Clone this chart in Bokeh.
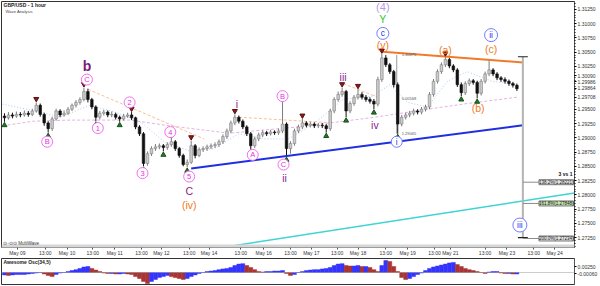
import numpy as np
from bokeh.plotting import figure
from bokeh.layouts import column
from bokeh.models import (Range1d, FixedTicker, ColumnDataSource, Label, BoxAnnotation,
                          Span, NumeralTickFormatter)
from bokeh.core.properties import value
from bokeh.embed import file_html
from bokeh.resources import INLINE

FONT = "Liberation Sans"

# ---------------- data (2-hour candles, GBP/USD) ----------------
first_open = 1.2938
close = [1.2935, 1.2940, 1.2938, 1.2941, 1.2940, 1.2943, 1.2941, 1.2947, 1.2957, 1.2941,
         1.2926, 1.2916, 1.2933, 1.2947, 1.2940, 1.2943, 1.2950, 1.2957, 1.2962, 1.2967,
         1.2981, 1.2967, 1.2954, 1.2936, 1.2943, 1.2945, 1.2940, 1.2941, 1.2936, 1.2933,
         1.2938, 1.2940, 1.2935, 1.2919, 1.2907, 1.2855, 1.2872, 1.2881, 1.2884, 1.2886,
         1.2883, 1.2888, 1.2893, 1.2881, 1.2869, 1.2853, 1.2857, 1.2886, 1.2869, 1.2879,
         1.2881, 1.2884, 1.2886, 1.2888, 1.2893, 1.2902, 1.2912, 1.2926, 1.2936, 1.2929,
         1.2919, 1.2907, 1.2886, 1.2898, 1.2905, 1.2909, 1.2907, 1.2910, 1.2909, 1.2912,
         1.2924, 1.2881, 1.2890, 1.2912, 1.2919, 1.2926, 1.2922, 1.2924, 1.2921, 1.2922,
         1.2921, 1.2916, 1.2947, 1.2967, 1.2976, 1.2981, 1.2947, 1.2960, 1.2971, 1.2976,
         1.2971, 1.2967, 1.2964, 1.2959, 1.3002, 1.3040, 1.3028, 1.3016, 1.2993, 1.2924,
         1.2936, 1.2940, 1.2943, 1.2947, 1.2945, 1.2950, 1.2954, 1.2976, 1.2999, 1.3016,
         1.3028, 1.3037, 1.3026, 1.3019, 1.2993, 1.2979, 1.2995, 1.3000, 1.2997, 1.2978,
         1.2999, 1.3012, 1.3019, 1.3012, 1.3005, 1.3002, 1.2999, 1.2995, 1.2992, 1.2986]
high = [1.2943, 1.2945, 1.2944, 1.2946, 1.2945, 1.2948, 1.2947, 1.2951, 1.2962, 1.2960,
        1.2944, 1.2929, 1.2937, 1.2951, 1.2950, 1.2948, 1.2954, 1.2960, 1.2966, 1.2971,
        1.2988, 1.2986, 1.2970, 1.2957, 1.2947, 1.2949, 1.2948, 1.2946, 1.2944, 1.2939,
        1.2942, 1.2944, 1.2945, 1.2937, 1.2922, 1.2910, 1.2876, 1.2885, 1.2889, 1.2890,
        1.2889, 1.2892, 1.2898, 1.2896, 1.2884, 1.2872, 1.2862, 1.2895, 1.2889, 1.2883,
        1.2885, 1.2888, 1.2890, 1.2892, 1.2897, 1.2906, 1.2916, 1.2930, 1.2941, 1.2939,
        1.2932, 1.2922, 1.2910, 1.2902, 1.2909, 1.2913, 1.2912, 1.2914, 1.2913, 1.2916,
        1.2964, 1.2927, 1.2894, 1.2916, 1.2923, 1.2933, 1.2929, 1.2928, 1.2927, 1.2926,
        1.2926, 1.2924, 1.2951, 1.2971, 1.2981, 1.2988, 1.2984, 1.2964, 1.2975, 1.2985,
        1.2980, 1.2975, 1.2971, 1.2968, 1.3007, 1.3047, 1.3045, 1.3031, 1.3019, 1.2997,
        1.2940, 1.2944, 1.2947, 1.2951, 1.2950, 1.2954, 1.2958, 1.2980, 1.3003, 1.3020,
        1.3032, 1.3042, 1.3040, 1.3029, 1.3022, 1.2997, 1.2999, 1.3004, 1.3003, 1.3000,
        1.3003, 1.3016, 1.3037, 1.3022, 1.3015, 1.3008, 1.3006, 1.3002, 1.2998, 1.2995]
low = [1.2928, 1.2932, 1.2934, 1.2935, 1.2936, 1.2937, 1.2937, 1.2938, 1.2944, 1.2937,
       1.2921, 1.2909, 1.2912, 1.2930, 1.2936, 1.2937, 1.2940, 1.2947, 1.2953, 1.2958,
       1.2964, 1.2962, 1.2950, 1.2929, 1.2932, 1.2939, 1.2936, 1.2936, 1.2932, 1.2928,
       1.2930, 1.2935, 1.2931, 1.2915, 1.2903, 1.2850, 1.2851, 1.2868, 1.2877, 1.2880,
       1.2876, 1.2879, 1.2884, 1.2877, 1.2865, 1.2850, 1.2848, 1.2854, 1.2864, 1.2866,
       1.2875, 1.2877, 1.2880, 1.2882, 1.2884, 1.2889, 1.2898, 1.2908, 1.2922, 1.2925,
       1.2915, 1.2903, 1.2879, 1.2882, 1.2894, 1.2901, 1.2903, 1.2904, 1.2905, 1.2905,
       1.2908, 1.2867, 1.2872, 1.2886, 1.2908, 1.2915, 1.2918, 1.2918, 1.2917, 1.2917,
       1.2917, 1.2909, 1.2912, 1.2943, 1.2963, 1.2972, 1.2936, 1.2943, 1.2956, 1.2967,
       1.2967, 1.2963, 1.2960, 1.2950, 1.2955, 1.2998, 1.3024, 1.3012, 1.2988, 1.2907,
       1.2920, 1.2932, 1.2936, 1.2939, 1.2941, 1.2941, 1.2946, 1.2950, 1.2972, 1.2995,
       1.3012, 1.3024, 1.3022, 1.3015, 1.2989, 1.2973, 1.2975, 1.2991, 1.2993, 1.2969,
       1.2974, 1.2995, 1.3008, 1.3008, 1.3001, 1.2998, 1.2995, 1.2991, 1.2988, 1.2982]
osc = [-0.0010, -0.0012, -0.0010, -0.0008, -0.0008, -0.0008, -0.0006, -0.0004, -0.0002, 0.0000,
       -0.0006, -0.0012, -0.0017, -0.0008, -0.0002, 0.0000, 0.0004, 0.0008, 0.0012, 0.0017,
       0.0023, 0.0025, 0.0017, 0.0010, 0.0004, -0.0002, -0.0004, -0.0004, -0.0006, -0.0006,
       -0.0004, -0.0006, -0.0008, -0.0017, -0.0025, -0.0037, -0.0046, -0.0037, -0.0029, -0.0021,
       -0.0017, -0.0012, -0.0017, -0.0021, -0.0025, -0.0029, -0.0025, -0.0017, -0.0010, -0.0004,
       0.0000, 0.0004, 0.0006, 0.0008, 0.0012, 0.0015, 0.0017, 0.0021, 0.0029, 0.0035,
       0.0037, 0.0029, 0.0021, 0.0012, 0.0004, 0.0002, 0.0004, 0.0004, 0.0006, 0.0006,
       0.0008, -0.0004, -0.0012, -0.0008, 0.0000, 0.0004, 0.0008, 0.0010, 0.0012, 0.0012,
       0.0015, 0.0017, 0.0021, 0.0029, 0.0035, 0.0037, 0.0029, 0.0027, 0.0027, 0.0029,
       0.0025, 0.0025, 0.0021, 0.0012, 0.0004, 0.0029, 0.0050, 0.0046, 0.0025, 0.0004,
       -0.0021, -0.0029, -0.0025, -0.0017, -0.0008, -0.0002, 0.0008, 0.0017, 0.0023, 0.0027,
       0.0031, 0.0035, 0.0040, 0.0042, 0.0033, 0.0025, 0.0017, 0.0012, 0.0008, 0.0004,
       0.0000, -0.0004, 0.0002, 0.0004, 0.0004, -0.0002, -0.0004, -0.0004, -0.0006, -0.0006]

# time axis (hour index) tick labels
time_ticks = [7.5, 21.5, 32.5, 45.5, 56.5, 70, 80, 94, 104, 120, 131.5, 145, 155.5,
              168.5, 179, 193, 204, 217.5, 225.5, 243, 254, 267.5, 278]
time_labels = ["May 09", "13:00", "May 10", "13:00", "May 11", "13:00", "May 12", "13:00",
               "May 14", "13:00", "May 16", "13:00", "May 17", "13:00", "May 18", "13:00",
               "May 19", "13:00", "May 21", "13:00", "May 23", "13:00", "May 24"]
# price scale ticks (1.30000 and 1.29750 are covered by the last-value tags)
price_ticks = [1.2725, 1.2750, 1.2775, 1.2800, 1.2825, 1.2850, 1.2875, 1.2900, 1.2925,
               1.2950, 1.3025, 1.3050, 1.3075, 1.3100, 1.3125]
last_values = [1.30090, 1.29986, 1.29864, 1.29708]
osc_ticks = [0.0025, -0.0006]

# moving averages
pink_ma_t = [0, 15.5, 34, 64, 84, 114, 149, 187.5, 214, 234, 259]
pink_ma_v = [1.2921, 1.2929, 1.2931, 1.2931, 1.2921, 1.2908, 1.2919, 1.2936, 1.2950, 1.2960, 1.2971]
blue_ma_t = [0, 16.5, 29, 44, 56.5, 69, 81.5, 94, 106.5, 119, 131.5, 144, 156.5, 171.5,
             186.5, 195, 204, 214, 224, 234, 246.5, 259]
blue_ma_v = [1.2959, 1.2947, 1.2936, 1.2957, 1.2945, 1.2929, 1.2893, 1.2877, 1.2881, 1.2907,
             1.2898, 1.2898, 1.2924, 1.2967, 1.2973, 1.2993, 1.2962, 1.2954, 1.2999, 1.3016,
             1.2999, 1.2993]
peach_t0 = [43, 119, 171.5]
peach_v0 = [1.2985, 1.2936, 1.2995]
peach_t1 = [101.5, 166.5, 189]
peach_v1 = [1.2898, 1.2926, 1.2971]

# trend lines
blue_trend_t = [95, 262]
blue_trend_v = [1.2846, 1.2922]
orange_trend_t = [191.5, 262]
orange_trend_v = [1.3051, 1.3032]
cyan_trend_t = [113, 288]
cyan_trend_v = [1.2709, 1.2803]

# projection / fibonacci
proj_t = 262
proj_top = 1.3042
proj_bottom = 1.2725
fib_levels = [1.28221, 1.27848, 1.27234]
fib_texts = ["138.2%(1.28221)", "161.8%(1.27848)", "200.0%(1.27234)"]
fib_fills = ["#e4e4e4", "#c6e6b0", "#e4e4e4"]

# swing markers (candle indices)
hi_marks = [8, 20, 32, 42, 47, 58, 75, 85, 89, 95, 111]
lo_marks = [0, 11, 23, 29, 35, 40, 46, 62, 71, 81, 86, 93, 99, 115, 119]

# wave labels
pink_txt = ["B", "1", "2", "3", "4", "5", "C", "A", "B", "C"]
pink_t = [22.5, 48, 64, 70.5, 84.5, 94, 42.5, 126, 141, 141.5]
pink_v = [1.2893, 1.2917, 1.2962, 1.2838, 1.2910, 1.2832, 1.3002, 1.2870, 1.2973, 1.2853]
purple_txt = ["C", "i", "ii", "iii", "iv"]
purple_t = [94, 118, 142, 171.5, 187.5]
purple_v = [1.2806, 1.2959, 1.2829, 1.3007, 1.2922]
orange_txt = ["(iv)", "(v)", "(a)", "(b)", "(c)"]
orange_t = [94, 191.5, 223, 239.5, 246]
orange_v = [1.2782, 1.3063, 1.3054, 1.2952, 1.3056]
blue_txt = ["c", "i", "ii", "iii"]
blue_t = [191.5, 198.5, 246, 260.5]
blue_v = [1.3083, 1.2893, 1.3080, 1.2747]
blue_size = [12, 11, 13, 14]

# ---------------- figure ----------------
n = len(close)
t = np.arange(n) * 2 + 1
opens = [first_open] + close[:-1]
up = [c >= o for o, c in zip(opens, close)]
src = ColumnDataSource(dict(
    t=t, open=opens, close=close, high=high, low=low,
    top=[max(o, c) for o, c in zip(opens, close)],
    bottom=[min(o, c) for o, c in zip(opens, close)],
    fill=["#cccccc" if u else "#111111" for u in up],
    line=["#7c7c7c" if u else "#111111" for u in up],
))

xr = Range1d(-0.5, 288)
p = figure(width=600, height=258, x_range=xr, y_range=Range1d(1.27076, 1.31389),
           y_axis_location="right", output_backend="svg", toolbar_location=None,
           min_border_left=1, min_border_right=22, min_border_top=1, min_border_bottom=8)
p.grid.visible = False
p.outline_line_color = "#333333"
p.background_fill_color = "white"
p.border_fill_color = "white"

# axes
p.xaxis.ticker = FixedTicker(ticks=time_ticks)
p.xaxis.major_label_overrides = {tk: lb for tk, lb in zip(time_ticks, time_labels)}
p.xaxis.major_label_text_font = FONT
p.xaxis.major_label_text_font_size = "5px"
p.xaxis.major_label_text_color = "#333333"
p.xaxis.major_tick_out = 2
p.xaxis.major_tick_in = 0
p.xaxis.major_label_standoff = 0
p.xaxis.axis_line_color = "#888888"
p.xaxis.major_tick_line_color = "#555555"

p.yaxis.ticker = FixedTicker(ticks=sorted(price_ticks + last_values),
                             minor_ticks=list(np.arange(1.2700, 1.3150, 0.0005)))
p.yaxis.formatter = NumeralTickFormatter(format="0.00000")
p.yaxis.major_label_text_font = FONT
p.yaxis.major_label_text_font_size = "5px"
p.yaxis.major_label_text_color = "#333333"
p.yaxis.major_tick_out = 2
p.yaxis.major_tick_in = 0
p.yaxis.minor_tick_out = 1
p.yaxis.minor_tick_in = 0
p.yaxis.major_label_standoff = 1
p.yaxis.axis_line_color = "#555555"

# axis band at bottom of the price pane
p.add_layout(BoxAnnotation(top=1.27130, fill_color="#d6d6d6", fill_alpha=1, line_color=None))

# moving averages and helper lines
p.line(pink_ma_t, pink_ma_v, line_color="#e4b2e4", line_dash="3 2", line_width=1)
p.line(blue_ma_t, blue_ma_v, line_color="#aecbf2", line_dash="1 2", line_width=1)
p.segment(peach_t0, peach_v0, peach_t1, peach_v1, line_color="#f7c09a", line_dash="3 2", line_width=1)

# measurement line (v)-i
p.segment([198.5], [1.3045], [198.5], [1.2907], line_color="#9a9a9a", line_width=1)

# candles
p.segment("t", "high", "t", "low", source=src, line_color="line", line_width=1)
p.vbar(x="t", width=1.3, top="top", bottom="bottom", source=src,
       fill_color="fill", line_color="line", line_width=0.6)

# trend lines
p.line(blue_trend_t, blue_trend_v, line_color="#1f2ee0", line_width=2)
p.line(orange_trend_t, orange_trend_v, line_color="#f07a2a", line_width=2)
p.line(cyan_trend_t, cyan_trend_v, line_color="#3fd4d4", line_width=1.5)

# projection + fib
p.segment([proj_t], [proj_top], [proj_t], [proj_bottom], line_color="#b4b4b4", line_width=2)
p.segment([proj_t - 2.5, proj_t - 2.5], [proj_top, proj_bottom], [proj_t + 2.5, proj_t + 2.5],
          [proj_top, proj_bottom], line_color="#222222", line_width=1.2)
p.segment([proj_t] * 3, fib_levels, [288] * 3, fib_levels, line_color="#8c8c8c", line_width=1)
for lv, tx, fc in zip(fib_levels, fib_texts, fib_fills):
    p.add_layout(Label(x=287.5, y=lv, text=tx, text_align="right", text_baseline="middle",
                       text_font=FONT, text_font_size="4.5px", text_color="#111111",
                       background_fill_color=fc, border_line_color="#777777"))
p.add_layout(Label(x=287, y=1.2836, text="3 vs 1", text_align="right", text_baseline="middle",
                   text_font=FONT, text_font_size="5px", text_font_style="bold", text_color="#111111"))

# swing markers
p.scatter([t[i] for i in hi_marks], [high[i] + 0.0006 for i in hi_marks],
          marker="inverted_triangle", size=5, fill_color="#8e1b1b", line_color="#5a0e0e")
p.scatter([t[i] for i in lo_marks], [low[i] - 0.0006 for i in lo_marks],
          marker="triangle", size=5, fill_color="#1f7a2a", line_color="#145218")

# wave labels
p.scatter(pink_t, pink_v, marker="circle", size=11, fill_color="white", line_color="#f46ff0", line_width=1)
p.text(pink_t, pink_v, text=pink_txt, text_font=value(FONT), text_font_size=value("7.5px"),
       text_color="#e030dc", text_align="center", text_baseline="middle")
p.scatter(blue_t, blue_v, marker="circle", size=blue_size, fill_color="white", line_color="#6f7cff", line_width=1)
p.text(blue_t, blue_v, text=blue_txt, text_font=value(FONT), text_font_size=value("8.5px"),
       text_color="#2a36e8", text_align="center", text_baseline="middle")
p.text([42.5], [1.3025], text=["b"], text_font=value(FONT), text_font_size=value("14px"),
       text_font_style="bold", text_color="#7d1a7d", text_align="center", text_baseline="middle")
p.text(purple_t, purple_v, text=purple_txt, text_font=value(FONT), text_font_size=value("10.5px"),
       text_color="#8a238a", text_align="center", text_baseline="middle")
p.text(orange_t, orange_v, text=orange_txt, text_font=value(FONT), text_font_size=value("10.5px"),
       text_color="#f07a22", text_align="center", text_baseline="middle")
p.text([191.5], [1.3108], text=["Y"], text_font=value(FONT), text_font_size=value("10.5px"),
       text_color="#30c830", text_align="center", text_baseline="middle")
p.text([191.5], [1.3130], text=["(4)"], text_font=value(FONT), text_font_size=value("11px"),
       text_color="#b898ec", text_align="center", text_baseline="middle")

# small measurement texts
p.text([201, 201, 201], [1.3046, 1.2968, 1.2907], text=["1.30475", "0.00568", "1.29065"],
       text_font=value(FONT), text_font_size=value("4px"), text_color="#555555",
       text_align="left", text_baseline="middle")

# headings
p.add_layout(Label(x=0.5, y=1.3132, text="GBP/USD - 1 hour", text_baseline="middle",
                   text_font=FONT, text_font_size="5px", text_font_style="bold", text_color="#222222"))
p.add_layout(Label(x=1.5, y=1.3121, text="Wave Analysis", text_baseline="middle",
                   text_font=FONT, text_font_size="4.2px", text_color="#444444"))
p.add_layout(Label(x=0.5, y=1.2715, text="\u2299-\u2299\u2299  MultiWave", text_baseline="middle",
                   text_font=FONT, text_font_size="4.5px", text_color="#333333"))

# ---------------- oscillator ----------------
osc_col = ["#3434ff" if (i == 0 or osc[i] >= osc[i - 1]) else "#a83434" for i in range(n)]
p2 = figure(width=600, height=28, x_range=xr, y_range=Range1d(-0.0050, 0.00584),
            y_axis_location="right", output_backend="svg", toolbar_location=None,
            min_border_left=1, min_border_right=22, min_border_top=0, min_border_bottom=2)
p2.grid.visible = False
p2.xaxis.visible = False
p2.outline_line_color = "#333333"
p2.add_layout(Span(location=0, dimension="width", line_color="#9a9a9a", line_dash="1 1", line_width=1))
p2.vbar(x=t, width=2, top=osc, bottom=0, fill_color=osc_col, line_color=osc_col, line_width=0.5)
p2.yaxis.ticker = FixedTicker(ticks=osc_ticks)
p2.yaxis.formatter = NumeralTickFormatter(format="0.00000")
p2.yaxis.major_label_text_font = FONT
p2.yaxis.major_label_text_font_size = "5px"
p2.yaxis.major_label_text_color = "#333333"
p2.yaxis.major_tick_out = 2
p2.yaxis.major_tick_in = 0
p2.yaxis.minor_tick_line_color = None
p2.yaxis.major_label_standoff = 1
p2.yaxis.axis_line_color = "#555555"
p2.add_layout(Label(x=0.5, y=0.0044, text="Awesome Osc(34,5)", text_baseline="middle",
                    text_font=FONT, text_font_size="5px", text_font_style="bold", text_color="#222222"))

layout = column(p, p2, spacing=0)
open("out.html", "w").write(file_html(layout, INLINE))
